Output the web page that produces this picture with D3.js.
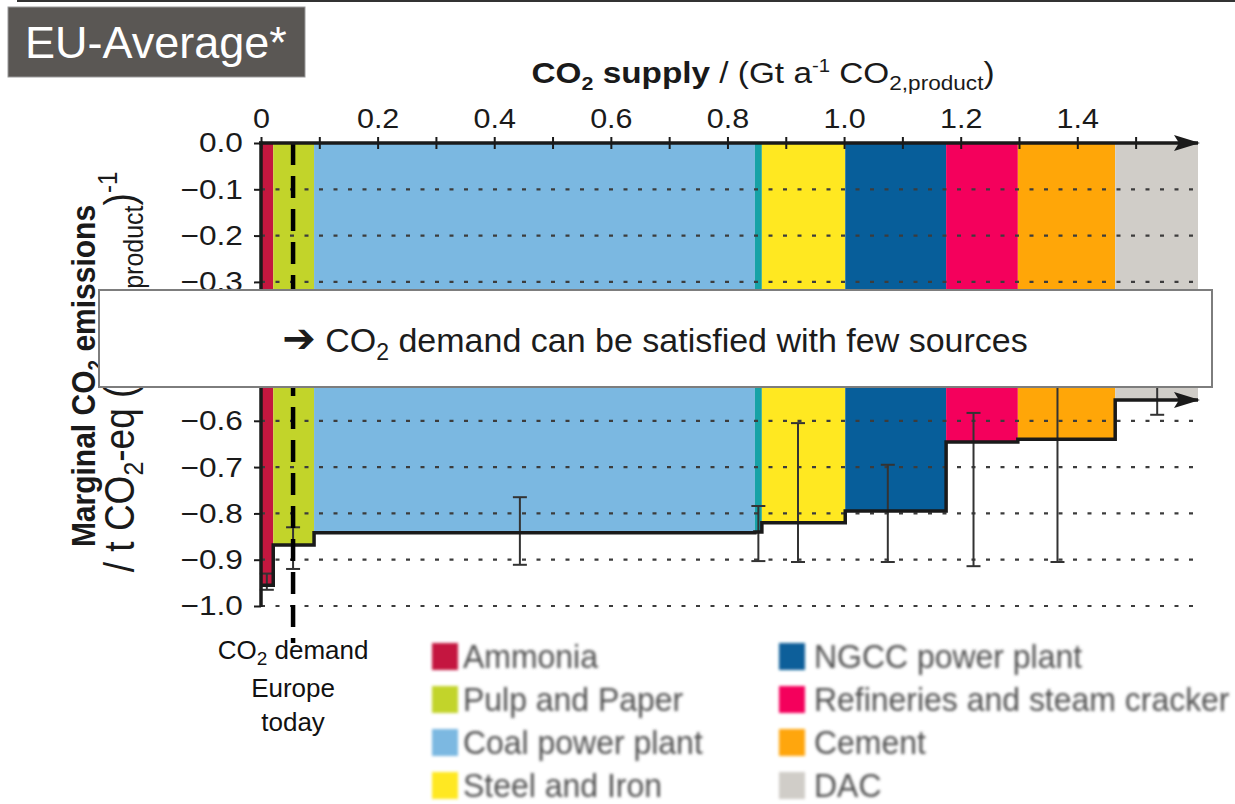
<!DOCTYPE html>
<html>
<head>
<meta charset="utf-8">
<script src="https://cdn.jsdelivr.net/npm/d3@7"></script>
<style>
  body { margin: 0; background: #fff; }
  svg { display: block; }
</style>
</head>
<body>
<div id="chart"></div>
<script>
"use strict";

/* ── Data ── */
const sources    = ["Ammonia", "Pulp and Paper", "Coal power plant", "Other", "Steel and Iron",
                    "NGCC power plant", "Refineries and steam cracker", "Cement", "DAC"];
const supplyEnd  = [0.021, 0.091, 0.847, 0.859, 1.002, 1.175, 1.298, 1.465, 1.607];   // Gt/a, cumulative
const emissions  = [-0.955, -0.868, -0.842, -0.840, -0.820, -0.795, -0.646, -0.640, -0.555];
const colours    = ["#c4173f", "#c2d42a", "#7bb8e1", "#17a2a6", "#ffe821",
                    "#075e9a", "#f4005c", "#ffa608", "#d0cdc8"];
const errX       = [0.010, 0.055, 0.444, 0.853, 0.921, 1.075, 1.222, 1.366, 1.537];
const errLow     = [-0.965, -0.920, -0.911, -0.903, -0.905, -0.905, -0.914, -0.905, -0.587];
const errHigh    = [-0.930, -0.830, -0.765, -0.784, -0.605, -0.695, -0.583, -0.420, -0.500];
const xTicks     = [0, 0.1, 0.2, 0.3, 0.4, 0.5, 0.6, 0.7, 0.8, 0.9, 1.0, 1.1, 1.2, 1.3, 1.4, 1.5];
const xLabelled  = [0, 0.2, 0.4, 0.6, 0.8, 1.0, 1.2, 1.4];
const yTicks     = [0, -0.1, -0.2, -0.3, -0.4, -0.5, -0.6, -0.7, -0.8, -0.9, -1.0];
const demandToday = 0.055;
const legendLeft  = ["Ammonia", "Pulp and Paper", "Coal power plant", "Steel and Iron"];
const legendRight = ["NGCC power plant", "Refineries and steam cracker", "Cement", "DAC"];

const FONT = "'Liberation Sans', Arial, Helvetica, sans-serif";
const SX = 1.13;   // the figure is a little stretched sideways
const INK = "#1a1a1a";

const svg = d3.select("#chart").append("svg")
  .attr("width", 1235).attr("height", 804)
  .style("font-family", FONT);

/* ── Scales ── */
const x = d3.scaleLinear().domain([0, 1.607]).range([261, 1198]);
const y = d3.scaleLinear().domain([0, -1]).range([143, 606]);

/* ── Defs: arrow + blur ── */
const defs = svg.append("defs");
defs.append("marker")
  .attr("id", "arrow").attr("viewBox", "0 0 26 16")
  .attr("refX", 24).attr("refY", 8)
  .attr("markerWidth", 26).attr("markerHeight", 16)
  .attr("markerUnits", "userSpaceOnUse").attr("orient", "auto")
  .append("path").attr("d", "M0,0 L26,8 L0,16 L5,8 Z").attr("fill", INK);
defs.append("filter").attr("id", "soft").attr("x", "-5%").attr("y", "-20%")
  .attr("width", "110%").attr("height", "140%")
  .append("feGaussianBlur").attr("stdDeviation", 1.5);

/* ── Top rule + title box ── */
svg.append("line").attr("x1", 17).attr("x2", 1235).attr("y1", 1).attr("y2", 1)
  .attr("stroke", "#333").attr("stroke-width", 2);
svg.append("rect").attr("x", 8).attr("y", 7).attr("width", 297).attr("height", 70)
  .attr("fill", "#5a5754").attr("stroke", "#9a9a9a").attr("stroke-width", 1);
svg.append("text").attr("x", 25).attr("y", 58)
  .attr("fill", "#fff").attr("font-size", "45px").text("EU-Average*");

/* ── Segments ── */
const segs = sources.map((s, i) => ({
  name: s, x0: i ? supplyEnd[i - 1] : 0, x1: supplyEnd[i], e: emissions[i], c: colours[i]
}));
svg.append("g").selectAll("rect").data(segs).join("rect")
  .attr("x", d => x(d.x0))
  .attr("y", y(0))
  .attr("width", d => x(d.x1) - x(d.x0))
  .attr("height", d => y(d.e) - y(0))
  .attr("fill", d => d.c);

/* ── Dotted grid ── */
svg.append("g").selectAll("line").data(yTicks.slice(1)).join("line")
  .attr("x1", x(0)).attr("x2", 1195)
  .attr("y1", d => y(d)).attr("y2", d => y(d))
  .attr("stroke", "#3c3c3c").attr("stroke-width", 2.2)
  .attr("stroke-dasharray", "4,10.5");

/* ── Error bars ── */
const errs = errX.map((v, i) => ({ x: v, lo: errLow[i], hi: errHigh[i] }));
const eb = svg.append("g").attr("stroke", "#333").attr("stroke-width", 2);
eb.selectAll(".stem").data(errs).join("line").attr("class", "stem")
  .attr("x1", d => x(d.x)).attr("x2", d => x(d.x))
  .attr("y1", d => y(d.hi)).attr("y2", d => y(d.lo));
eb.selectAll(".capl").data(errs).join("line").attr("class", "capl")
  .attr("x1", d => x(d.x) - 7).attr("x2", d => x(d.x) + 7)
  .attr("y1", d => y(d.lo)).attr("y2", d => y(d.lo));
eb.selectAll(".caph").data(errs).join("line").attr("class", "caph")
  .attr("x1", d => x(d.x) - 7).attr("x2", d => x(d.x) + 7)
  .attr("y1", d => y(d.hi)).attr("y2", d => y(d.hi));

/* ── Step outline ── */
const stepPts = [[0, emissions[0]]];
supplyEnd.forEach((s, i) => stepPts.push([s, emissions[Math.min(i + 1, emissions.length - 1)]]));
svg.append("path")
  .attr("d", d3.line().x(d => x(d[0])).y(d => y(d[1])).curve(d3.curveStepAfter)(stepPts))
  .attr("fill", "none").attr("stroke", INK).attr("stroke-width", 3.5)
  .attr("marker-end", "url(#arrow)");

/* ── Demand today ── */
svg.append("line")
  .attr("x1", x(demandToday)).attr("x2", x(demandToday))
  .attr("y1", y(0)).attr("y2", 643)
  .attr("stroke", "#000").attr("stroke-width", 4.5)
  .attr("stroke-dasharray", "22,11");

const dem = svg.append("text").attr("text-anchor", "middle")
  .attr("font-size", "26px").attr("fill", "#111");
const dl1 = dem.append("tspan").attr("x", x(demandToday)).attr("y", 659);
dl1.append("tspan").text("CO");
dl1.append("tspan").attr("font-size", "19px").attr("dy", 6).text("2");
dl1.append("tspan").attr("dy", -6).text(" demand");
dem.append("tspan").attr("x", x(demandToday)).attr("y", 697).text("Europe");
dem.append("tspan").attr("x", x(demandToday)).attr("y", 731).text("today");

/* ── Axes ── */
const fmt = d3.format(".1f");
const xAxisG = svg.append("g").attr("transform", `translate(0,${y(0)})`)
  .call(d3.axisTop(x).tickValues(xTicks).tickSize(6).tickPadding(9)
    .tickFormat(d => xLabelled.some(v => Math.abs(v - d) < 1e-9) ? (d === 0 ? "0" : fmt(d)) : ""));
xAxisG.select(".domain").remove();
xAxisG.selectAll(".tick line").attr("y1", -6).attr("y2", 6).attr("stroke", INK).attr("stroke-width", 2);
xAxisG.selectAll(".tick text").attr("fill", INK).attr("font-size", "27px")
  .attr("font-family", FONT).attr("transform", `scale(${SX},1)`);
svg.append("line").attr("x1", x(0) - 2).attr("x2", x(1.607))
  .attr("y1", y(0)).attr("y2", y(0))
  .attr("stroke", INK).attr("stroke-width", 3.5).attr("marker-end", "url(#arrow)");

const yAxisG = svg.append("g").attr("transform", `translate(${x(0)},0)`)
  .call(d3.axisLeft(y).tickValues(yTicks).tickSize(7).tickPadding(9).tickFormat(fmt));
yAxisG.select(".domain").remove();
yAxisG.selectAll(".tick line").attr("stroke", INK).attr("stroke-width", 2);
yAxisG.selectAll(".tick text").attr("fill", INK).attr("font-size", "28px")
  .attr("font-family", FONT).attr("transform", `scale(${SX},1)`);
svg.append("line").attr("x1", x(0)).attr("x2", x(0))
  .attr("y1", y(0) - 1.5).attr("y2", y(-1) + 1)
  .attr("stroke", INK).attr("stroke-width", 3.5);

/* ── Axis titles ── */
const xt = svg.append("text").attr("text-anchor", "middle").attr("fill", INK)
  .attr("font-size", "29.5px")
  .attr("transform", `translate(763,83) scale(${SX},1)`);
xt.append("tspan").attr("font-weight", "bold").text("CO");
xt.append("tspan").attr("font-weight", "bold").attr("font-size", "19px").attr("dy", 7).text("2");
xt.append("tspan").attr("font-weight", "bold").attr("dy", -7).text(" supply");
xt.append("tspan").text(" / (Gt a");
xt.append("tspan").attr("font-size", "18px").attr("dy", -11).text("-1");
xt.append("tspan").attr("dy", 11).text(" CO");
xt.append("tspan").attr("font-size", "20px").attr("dy", 7).text("2,product");
xt.append("tspan").attr("dy", -7).text(")");

const yt1 = svg.append("text").attr("text-anchor", "middle").attr("fill", INK)
  .attr("font-size", "30px").attr("font-weight", "bold")
  .attr("transform", `translate(95,376) scale(${SX},1) rotate(-90)`);
yt1.append("tspan").text("Marginal CO");
yt1.append("tspan").attr("font-size", "19px").attr("dy", 7).text("2");
yt1.append("tspan").attr("dy", -7).text(" emissions");

const yt2 = svg.append("text").attr("text-anchor", "middle").attr("fill", INK)
  .attr("font-size", "37px")
  .attr("transform", `translate(134,372) scale(${SX},1) rotate(-90)`);
yt2.append("tspan").text("/ t CO");
yt2.append("tspan").attr("font-size", "25px").attr("dy", 8).text("2");
yt2.append("tspan").attr("dy", -8).text("-eq (t CO");
yt2.append("tspan").attr("font-size", "25px").attr("dy", 8).text("2,product");
yt2.append("tspan").attr("dy", -8).text(")");
yt2.append("tspan").attr("font-size", "24px").attr("dy", -15).text("-1");

/* ── Legend (soft, like a scaled bitmap) ── */
const legend = svg.append("g").attr("filter", "url(#soft)");
const colourOf = name => colours[sources.indexOf(name)];
const legendCols = [
  { names: legendLeft,  sx: 432, tx: 463 },
  { names: legendRight, sx: 779, tx: 814 }
];
legendCols.forEach(col => {
  const g = legend.append("g");
  g.selectAll("rect").data(col.names).join("rect")
    .attr("x", col.sx).attr("y", (d, i) => 643 + i * 43)
    .attr("width", 26).attr("height", 27)
    .attr("fill", colourOf);
  g.selectAll("text").data(col.names).join("text")
    .attr("transform", (d, i) => `translate(${col.tx},${668 + i * 43}) scale(0.94,1)`)
    .attr("font-size", "34px").attr("fill", "#505050")
    .text(d => d);
});

/* ── Annotation box ── */
svg.append("rect").attr("x", 99).attr("y", 290).attr("width", 1113).attr("height", 97)
  .attr("fill", "#fff").attr("stroke", "#7d7d7d").attr("stroke-width", 2);
const note = svg.append("text").attr("x", 655).attr("y", 352)
  .attr("text-anchor", "middle").attr("font-size", "34px").attr("fill", "#1c1c1c");
note.append("tspan").attr("font-family", "'DejaVu Sans', sans-serif").attr("font-weight", "bold")
  .attr("font-size", "40px").text("➔");
note.append("tspan").text(" CO");
note.append("tspan").attr("font-size", "23px").attr("dy", 8).text("2");
note.append("tspan").attr("dy", -8).text(" demand can be satisfied with few sources");
</script>
</body>
</html>
